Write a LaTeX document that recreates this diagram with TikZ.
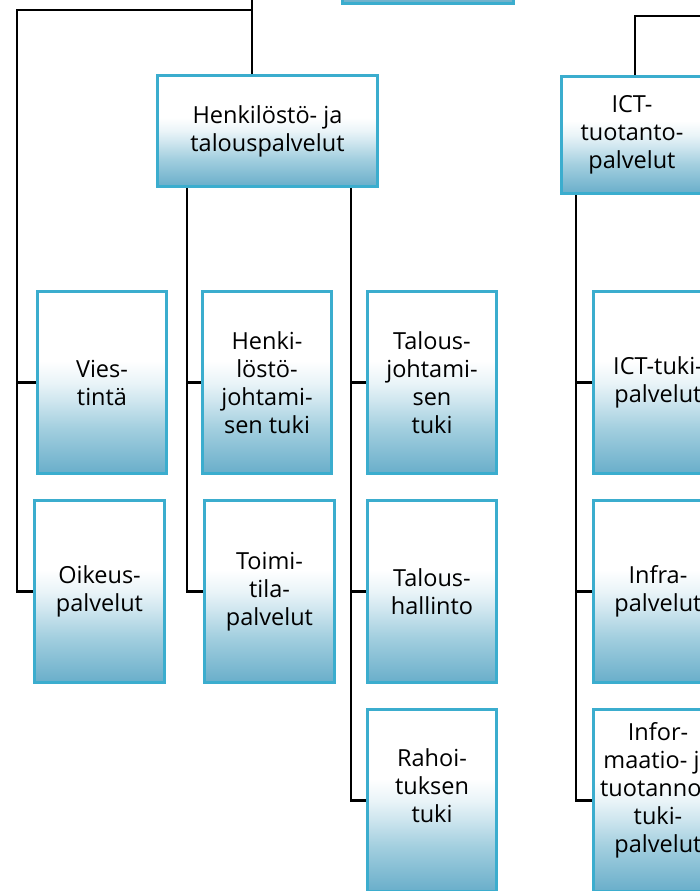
\documentclass[tikz,border=0pt]{standalone}
\usepackage{fontspec}
\setmainfont{Open Sans}
\definecolor{boxline}{HTML}{3BADCE}
\definecolor{fillbot}{HTML}{69AECA}
\definecolor{fillA}{HTML}{A3CFDF}
\definecolor{fillB}{HTML}{CFE6EF}
\definecolor{fillC}{HTML}{EAF4F8}
\pgfdeclareverticalshading{boxshade}{100bp}{color(0bp)=(fillbot); color(25bp)=(fillbot); color(37.5bp)=(fillA); color(45bp)=(fillB); color(50bp)=(fillC); color(56bp)=(white); color(100bp)=(white)}
\begin{document}
\begin{tikzpicture}[x=1pt,y=-1pt,
  box/.style={draw=boxline, line width=3pt, shade, shading=boxshade,
    minimum width=129pt, minimum height=182pt, inner sep=0pt,
    align=center, font=\fontsize{23.5}{28}\selectfont},
  lbl/.style={align=center, font=\fontsize{23.5}{28}\selectfont, inner sep=0pt},
  conn/.style={line width=2.2pt, black}]
\useasboundingbox (0,0) rectangle (700,891);
\clip (0,0) rectangle (700,891);

% boxes
\node[box, minimum width=171pt, minimum height=104pt] (top) at (428,-48) {};
\node[box, minimum width=220pt, minimum height=111pt] (hk) at (267.5,131) {Henkilöstö- ja\\talouspalvelut};
\node[box, minimum width=141pt, minimum height=117pt] (ict) at (632,135) {ICT-\\tuotanto-\\palvelut};

\node[box] (vie) at (102,382.5) {Vies-\\tintä};
\node[box, minimum width=130pt] (oik) at (99.5,591.5) {Oikeus-\\palvelut};
\node[box] (hen) at (267,382.5) {Henki-\\löstö-\\johtami-\\sen tuki};
\node[box, minimum width=130pt] (toi) at (269.5,591.5) {Toimi-\\tila-\\palvelut};
\node[box] (tjt) at (432,382.5) {Talous-\\johtami-\\sen\\tuki};
\node[box] (th) at (432,591.5) {Talous-\\hallinto};
\node[box, label={[lbl, yshift=15pt]center:Rahoi-\\tuksen\\tuki}] (rah) at (432,800.5) {};
\node[box] (ictt) at (658,382.5) {ICT-tuki-\\palvelut};
\node[box] (inf) at (658,591.5) {Infra-\\palvelut};
\node[box, label={[lbl, yshift=10pt]center:Infor-\\maatio- ja\\tuotannon\\tuki-\\palvelut}] (info) at (658,800.5) {};

% trunk coordinates
\coordinate (up1) at (252,-20);
\coordinate (j1) at (252,10);
\coordinate (c1) at (17,10);
\coordinate (c2) at (187,0);
\coordinate (c3) at (351,0);
\coordinate (up2) at (720,16);
\coordinate (j2) at (635,16);
\coordinate (c4) at (576,0);

% connectors
\draw[conn] (up1) -- (hk.north -| up1);
\draw[conn] (j1) -- (c1) -- (c1 |- oik.west) -- (oik.west);
\draw[conn] (c1 |- vie.west) -- (vie.west);

\draw[conn] (hk.south -| c2) -- (c2 |- toi.west) -- (toi.west);
\draw[conn] (c2 |- hen.west) -- (hen.west);

\draw[conn] (hk.south -| c3) -- (c3 |- rah.west) -- (rah.west);
\draw[conn] (c3 |- tjt.west) -- (tjt.west);
\draw[conn] (c3 |- th.west) -- (th.west);

\draw[conn] (up2) -- (j2) -- (ict.north -| j2);
\draw[conn] (ict.south -| c4) -- (c4 |- info.west) -- (info.west);
\draw[conn] (c4 |- ictt.west) -- (ictt.west);
\draw[conn] (c4 |- inf.west) -- (inf.west);
\end{tikzpicture}
\end{document}
